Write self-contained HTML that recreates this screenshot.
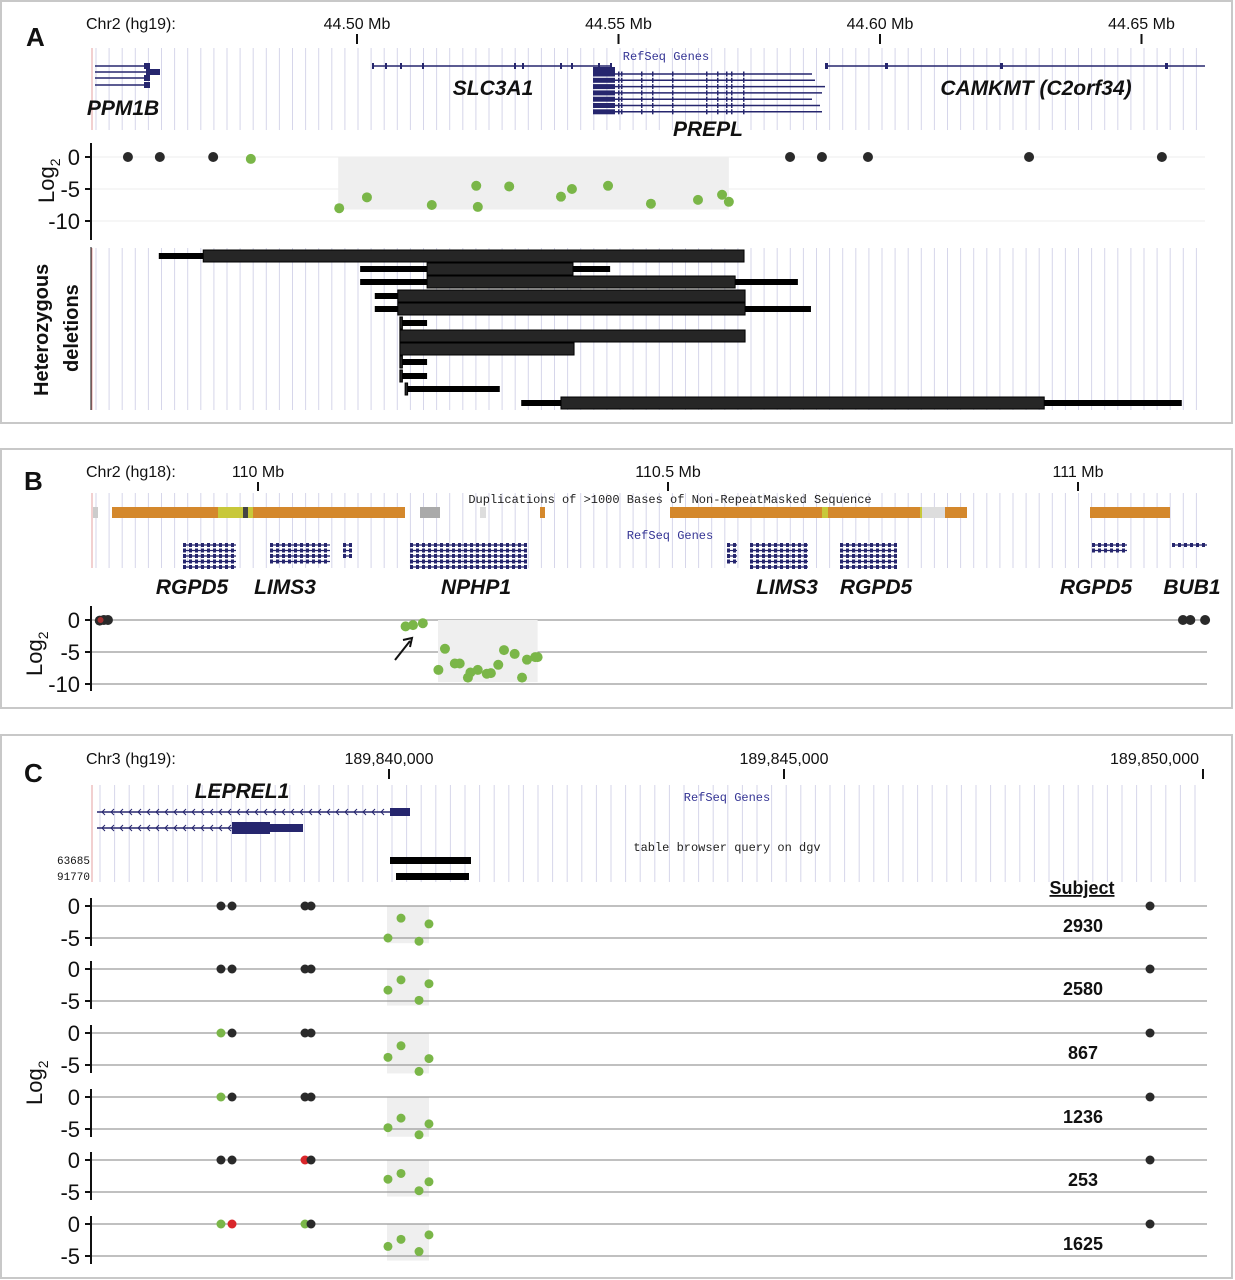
<!DOCTYPE html>
<html><head><meta charset="utf-8">
<style>
html,body{margin:0;padding:0;background:#fff;}
svg{display:block;font-family:"Liberation Sans",sans-serif;}
.mono{font-family:"Liberation Mono",monospace;}
</style></head>
<body>
<svg id="fig" width="1235" height="1280" viewBox="0 0 1235 1280" xmlns="http://www.w3.org/2000/svg">
<rect x="0" y="0" width="1235" height="1280" fill="#fff"/>
<rect x="1" y="1" width="1231" height="422" fill="none" stroke="#c8c8c8" stroke-width="2"/>
<rect x="1" y="449" width="1231" height="259" fill="none" stroke="#c8c8c8" stroke-width="2"/>
<rect x="1" y="735" width="1231" height="543" fill="none" stroke="#c8c8c8" stroke-width="2"/>
<g id="grid"></g>
<g id="static"></g>
<g id="marks"></g>
</svg>
<script>
// ---------- Panel A data ----------
const aBlackPos = [44.4562,44.4623,44.4725,44.5828,44.5889,44.5977,44.6285,44.6539];
const aBlackVal = [0,0,0,0,0,0,0,0];
const aGreenPos = [44.4797,44.4966,44.5019,44.5143,44.5228,44.5231,44.5291,44.5390,44.5411,44.5480,44.5562,44.5652,44.5698,44.5711];
const aGreenVal = [-0.3,-8,-6.3,-7.5,-4.5,-7.8,-4.6,-6.2,-5,-4.5,-7.3,-6.7,-5.9,-7];
const aRegion = [44.4964,44.5711,-8.2];
const aTicks = [44.50,44.55,44.60,44.65];
const aTickLabels = ["44.50 Mb","44.55 Mb","44.60 Mb","44.65 Mb"];
const delThinStart = [44.4621,44.5006,44.5006,44.5034,44.5034,44.5082,44.5082,44.5082,44.5082,44.5082,44.5092,44.5314];
const delThinEnd   = [44.5740,44.5484,44.5843,44.5742,44.5868,44.5134,44.5742,44.5415,44.5134,44.5134,44.5273,44.6577];
const delThickStart= [44.4706,44.5134,44.5134,44.5078,44.5078,44.5082,44.5082,44.5082,44.5082,44.5082,44.5092,44.5390];
const delThickEnd  = [44.5740,44.5413,44.5723,44.5742,44.5742,44.5082,44.5742,44.5415,44.5082,44.5082,44.5092,44.6314];
// ---------- Panel B data ----------
const bBlackPos = [109.807,109.812,109.817,111.128,111.137,111.155];
const bBlackVal = [-0.1,0,0,0,0,0];
const bGreenPos = [110.180,110.189,110.201,110.228,110.220,110.240,110.246,110.259,110.256,110.268,110.279,110.284,110.293,110.300,110.313,110.322,110.328,110.338,110.341];
const bGreenVal = [-1,-0.8,-0.5,-4.5,-7.8,-6.8,-6.8,-8.2,-9,-7.8,-8.4,-8.3,-7,-4.7,-5.3,-9,-6.2,-5.8,-5.8];
const bRegion = [110.2195,110.341,-9.7];
const bTicks = [110,110.5,111];
const bTickLabels = ["110 Mb","110.5 Mb","111 Mb"];
// ---------- Panel C data ----------
const cTicks = [189840000,189845000,189850000];
const cTickLabels = ["189,840,000","189,845,000","189,850,000"];
const cSubjects = ["2930","2580","867","1236","253","1625"];
const cPos = [837873,838013,838937,839013,849368];
const cCol1 = ["k","k","g","g","k","g"];
const cCol2 = ["k","k","k","k","k","r"];
const cCol3 = ["k","k","k","k","r","g"];
const cCol4 = ["k","k","k","k","k","k"];
const cGreenPos = [839987,840152,840380,840506];
const cGreenVal1 = [-5,-1.9,-5.5,-2.8];
const cGreenVal2 = [-3.3,-1.7,-4.9,-2.3];
const cGreenVal3 = [-3.8,-2,-6,-4];
const cGreenVal4 = [-4.8,-3.3,-5.9,-4.2];
const cGreenVal5 = [-3,-2.1,-4.8,-3.4];
const cGreenVal6 = [-3.5,-2.4,-4.3,-1.7];

const NS="http://www.w3.org/2000/svg";
const grid=document.getElementById('grid'), st=document.getElementById('static'), mk=document.getElementById('marks');
function el(tag,attrs,parent,text){const e=document.createElementNS(NS,tag);for(const k in attrs)e.setAttribute(k,attrs[k]);if(text!==undefined)e.textContent=text;(parent||st).appendChild(e);return e;}

const ax=v=>357+(v-44.50)/0.05*261.5;
const bx=v=>258+(v-110)*820;
const cx=v=>v<=845000?389+(v-840000)*0.079:784+(v-845000)*0.0838;
const ay=v=>157-v*6.4;
const by=v=>620-v*6.4;
const cZero=[906,969,1033,1097,1160,1224];
const GREEN="#7ab648", BLACK="#2a2a2a", RED="#d9262a";

function vgrid(x0,x1,y0,y1,step){for(let x=x0;x<=x1;x+=step){const l=el('line',{x1:x,x2:x,y1:y0,y2:y1,stroke:'#d6d6ea','stroke-width':1},grid);

}}
vgrid(96,1205,48,130,13.1);
vgrid(96,1205,248,410,13.1);
vgrid(96,1205,493,568,13.1);
vgrid(100,1205,785,882,14.6);
[[92,48,130],[92,248,410],[92,493,568],[92,785,882]].forEach(a=>el('line',{x1:a[0],x2:a[0],y1:a[1],y2:a[2],stroke:'#e4a0a0'},grid));

function txt(x,y,s,opt,name){const t=el('text',Object.assign({x:x,y:y,'font-size':16,fill:'#111'},opt||{}),st,s);

return t;}
function gene(x,y,s){txt(x,y,s,{'font-size':21,'font-weight':'bold','font-style':'italic','text-anchor':'middle'},'gene-label');}

// ---------- Panel A static ----------
txt(26,46,"A",{'font-size':26,'font-weight':'bold'},'panel-a-letter');
txt(86,29,"Chr2 (hg19):",{'font-size':16},'panel-a-chrom');
aTicks.forEach((v,i)=>{el('line',{x1:ax(v),x2:ax(v),y1:34,y2:44,stroke:'#111','stroke-width':2});txt(ax(v),29,aTickLabels[i],{'font-size':16,'text-anchor':'middle'},'x-tick-label');});
txt(666,60,"RefSeq Genes",{'font-size':12,fill:'#343494',class:'mono','text-anchor':'middle'},'track-title');
const NAVY="#26266e";
[[66,95,150],[72,95,160],[78,95,150],[85,95,150]].forEach((r,i)=>{el('line',{x1:r[1],x2:r[2],y1:r[0],y2:r[0],stroke:NAVY,'stroke-width':1.5});el('rect',{x:r[2]-(i==1?14:6),y:r[0]-3,width:(i==1?14:6),height:6,fill:NAVY});});
el('line',{x1:372,x2:610,y1:66,y2:66,stroke:NAVY,'stroke-width':1.5});
[372,385,400,422,514,522,560,571,598,610].forEach(x=>el('rect',{x:x,y:63,width:2,height:6,fill:NAVY}));
for(let i=0;i<7;i++){const y=74+i*6.3;el('rect',{x:593,y:y-2.5,width:22,height:5,fill:NAVY});el('line',{x1:615,x2:[812,815,825,822,812,820,822][i],y1:y,y2:y,stroke:NAVY,'stroke-width':1.5});
[618,621,641,652,672,706,717,726,731,743].forEach(x=>el('rect',{x:x,y:y-2.5,width:1.5,height:5,fill:NAVY}));}
el('rect',{x:593,y:67,width:22,height:5,fill:NAVY});
el('line',{x1:825,x2:1205,y1:66,y2:66,stroke:NAVY,'stroke-width':1.5});
[825,885,1000,1165].forEach(x=>el('rect',{x:x,y:63,width:3,height:6,fill:NAVY}));
gene(123,115,"PPM1B");gene(493,95,"SLC3A1");gene(708,136,"PREPL");gene(1036,95,"CAMKMT (C2orf34)");
el('rect',{x:ax(aRegion[0]),y:ay(0),width:ax(aRegion[1])-ax(aRegion[0]),height:ay(aRegion[2])-ay(0),fill:'#efefef'},mk);
[0,-5,-10].forEach(v=>{el('line',{x1:91,x2:1205,y1:ay(v),y2:ay(v),stroke:'#ececec'},grid);el('line',{x1:85,x2:91,y1:ay(v),y2:ay(v),stroke:'#111','stroke-width':2});txt(80,ay(v)+8,String(v),{'font-size':22,'text-anchor':'end'},'y-tick-label');});
el('line',{x1:91,x2:91,y1:143,y2:240,stroke:'#111','stroke-width':2});
el('line',{x1:91,x2:91,y1:247,y2:410,stroke:'#111','stroke-width':1});
txt(0,0,"Log",{'font-size':22,transform:'translate(54,203) rotate(-90)'},'y-axis-title-a').innerHTML='Log<tspan font-size="14" dy="6">2</tspan>';
txt(0,0,"Heterozygous",{'font-size':20,'font-weight':'bold',transform:'translate(48,396) rotate(-90)'},'deletions-title');
txt(0,0,"deletions",{'font-size':20,'font-weight':'bold',transform:'translate(78,372) rotate(-90)'},'deletions-title');

// ---------- Panel B static ----------
txt(24,490,"B",{'font-size':26,'font-weight':'bold'},'panel-b-letter');
txt(86,477,"Chr2 (hg18):",{'font-size':16},'panel-b-chrom');
bTicks.forEach((v,i)=>{el('line',{x1:bx(v),x2:bx(v),y1:482,y2:491,stroke:'#111','stroke-width':2});txt(bx(v),477,bTickLabels[i],{'font-size':16,'text-anchor':'middle'},'x-tick-label');});
txt(670,503,"Duplications of >1000 Bases of Non-RepeatMasked Sequence",{'font-size':12,class:'mono','text-anchor':'middle',fill:'#222'},'track-title');
const OR="#d4882c",YE="#c8c83a";
[[112,405,OR],[218,253,YE],[243,248,'#444'],[420,440,'#aaa'],[480,486,'#ddd'],[540,545,OR],[670,822,OR],[822,828,YE],[828,890,OR],[890,922,OR],[920,926,YE],[922,945,'#ddd'],[945,967,OR],[1090,1170,OR],[93,98,'#ccc']].forEach(s=>el('rect',{x:s[0],y:507,width:s[1]-s[0],height:11,fill:s[2]}));
txt(670,539,"RefSeq Genes",{'font-size':12,class:'mono','text-anchor':'middle',fill:'#343494'},'track-title');
[[183,236,5],[270,330,4],[343,350,3],[410,525,5],[727,737,4],[750,808,5],[840,895,5],[1092,1127,2],[1172,1207,1]].forEach(g=>{for(let i=0;i<g[2];i++){const y=545+i*5.5;el('line',{x1:g[0],x2:g[1],y1:y,y2:y,stroke:NAVY,'stroke-width':1.2});for(let x=g[0];x<g[1];x+=6)el('rect',{x:x,y:y-2,width:3,height:4,fill:NAVY});}});
gene(192,594,"RGPD5");gene(285,594,"LIMS3");gene(476,594,"NPHP1");gene(787,594,"LIMS3");gene(876,594,"RGPD5");gene(1096,594,"RGPD5");gene(1192,594,"BUB1");
el('rect',{x:bx(bRegion[0]),y:by(0),width:bx(bRegion[1])-bx(bRegion[0]),height:by(bRegion[2])-by(0),fill:'#efefef'},mk);
[0,-5,-10].forEach(v=>{el('line',{x1:91,x2:1207,y1:by(v),y2:by(v),stroke:'#999','stroke-width':1.2},grid);el('line',{x1:85,x2:91,y1:by(v),y2:by(v),stroke:'#111','stroke-width':2});txt(80,by(v)+8,String(v),{'font-size':22,'text-anchor':'end'},'y-tick-label');});
el('line',{x1:91,x2:91,y1:606,y2:691,stroke:'#111','stroke-width':2});
txt(0,0,"",{'font-size':22,transform:'translate(42,676) rotate(-90)'},'y-axis-title-b').innerHTML='Log<tspan font-size="14" dy="6">2</tspan>';
el('line',{x1:395,x2:410,y1:660,y2:641,stroke:'#111','stroke-width':2});
el('path',{d:'M403,640 L412,638 L410,647',fill:'none',stroke:'#111','stroke-width':2});

// ---------- Panel C static ----------
txt(24,782,"C",{'font-size':26,'font-weight':'bold'},'panel-c-letter');
txt(86,764,"Chr3 (hg19):",{'font-size':16},'panel-c-chrom');
cTicks.forEach((v,i)=>{const x=cx(v-189000000);el('line',{x1:x,x2:x,y1:769,y2:779,stroke:'#111','stroke-width':2});
 if(i<2)txt(x,764,cTickLabels[i],{'font-size':16,'text-anchor':'middle'},'x-tick-label');
 else txt(x-4,764,cTickLabels[i],{'font-size':16,'text-anchor':'end'},'x-tick-label');});
txt(727,801,"RefSeq Genes",{'font-size':12,class:'mono','text-anchor':'middle',fill:'#343494'},'track-title');
gene(242,798,"LEPREL1");
el('line',{x1:97,x2:392,y1:812,y2:812,stroke:NAVY,'stroke-width':1.5});
el('rect',{x:390,y:808,width:20,height:8,fill:NAVY});
el('line',{x1:97,x2:232,y1:828,y2:828,stroke:NAVY,'stroke-width':1.5});
el('rect',{x:232,y:822,width:38,height:12,fill:NAVY});el('rect',{x:270,y:824,width:33,height:8,fill:NAVY});
for(let x=102;x<390;x+=9)el('path',{d:`M${x+3},809 L${x},812 L${x+3},815`,fill:'none',stroke:NAVY,'stroke-width':1});
for(let x=102;x<230;x+=9)el('path',{d:`M${x+3},825 L${x},828 L${x+3},831`,fill:'none',stroke:NAVY,'stroke-width':1});
txt(727,851,"table browser query on dgv",{'font-size':12,class:'mono','text-anchor':'middle',fill:'#222'},'track-title');
txt(90,864,"63685",{'font-size':11,class:'mono','text-anchor':'end'},'dgv-id');
txt(90,880,"91770",{'font-size':11,class:'mono','text-anchor':'end'},'dgv-id');
el('rect',{x:390,y:857,width:81,height:7,fill:'#000'});el('rect',{x:396,y:873,width:73,height:7,fill:'#000'});
txt(1082,894,"Subject",{'font-size':18,'font-weight':'bold','text-anchor':'middle','text-decoration':'underline'},'subject-header');
txt(0,0,"",{'font-size':22,transform:'translate(42,1105) rotate(-90)'},'y-axis-title-c').innerHTML='Log<tspan font-size="14" dy="6">2</tspan>';

// ---------- marks ----------
function dot(x,y,c,r,name){const d=el('circle',{cx:x,cy:y,r:r||5,fill:c},mk);

}
aBlackPos.forEach((p,i)=>dot(ax(p),ay(aBlackVal[i]),BLACK,5,'point-normal-a'));
aGreenPos.forEach((p,i)=>dot(ax(p),ay(aGreenVal[i]),GREEN,5,'point-deleted-a'));
const delRowY=[256,269,282,296,309,323,336,349,362,376,389,403];
delThinStart.forEach((s,i)=>{const y=delRowY[i];
const t=el('rect',{x:ax(s),y:y-3,width:Math.max(ax(delThinEnd[i])-ax(s),2),height:6,fill:'#000'},mk);


const w=ax(delThickEnd[i])-ax(delThickStart[i]);
const b=el('rect',{x:ax(delThickStart[i]),y:y-6,width:Math.max(w,2.5),height:12,fill:'#262626',stroke:'#000','stroke-width':1},mk);

});
bBlackPos.forEach((p,i)=>dot(bx(p),by(bBlackVal[i]),BLACK,5,'point-normal-b'));
dot(bx(109.808),by(0),'#a03030',3,'point-red-b');
bGreenPos.forEach((p,i)=>dot(bx(p),by(bGreenVal[i]),GREEN,5,'point-deleted-b'));
const cGreenVals=[cGreenVal1,cGreenVal2,cGreenVal3,cGreenVal4,cGreenVal5,cGreenVal6];
const cCols=[cCol1,cCol2,cCol3,cCol4];
const colMap={k:BLACK,g:GREEN,r:RED};
cZero.forEach((z,row)=>{
 const cy=v=>z-v*6.4;
 const minV=Math.min(...cGreenVals[row]);
 const reg=el('rect',{x:cx(cGreenPos[0])-1,y:cy(0),width:cx(cGreenPos[3])-cx(cGreenPos[0])+1,height:cy(Math.min(minV,-5.4))-cy(0)+2,fill:'#efefef'},mk);
 
 
 [0,-5].forEach(v=>{el('line',{x1:91,x2:1207,y1:cy(v),y2:cy(v),stroke:'#9a9a9a','stroke-width':1.3},mk);el('line',{x1:85,x2:91,y1:cy(v),y2:cy(v),stroke:'#111','stroke-width':2},mk);txt(80,cy(v)+8,String(v),{'font-size':22,'text-anchor':'end'},'y-tick-label');});
 el('line',{x1:91,x2:91,y1:z-8,y2:z+40,stroke:'#111','stroke-width':2},mk);
 cPos.forEach((p,j)=>{const c=j<4?cCols[j][row]:'k';dot(cx(p),cy(0),colMap[c],4.5,'point-normal-c');});
 cGreenPos.forEach((p,j)=>dot(cx(p),cy(cGreenVals[row][j]),GREEN,4.5,'point-deleted-c'));
 txt(1083,z+26,cSubjects[row],{'font-size':18,'font-weight':'bold','text-anchor':'middle'},'subject-id');
});
</script>
</body></html>
